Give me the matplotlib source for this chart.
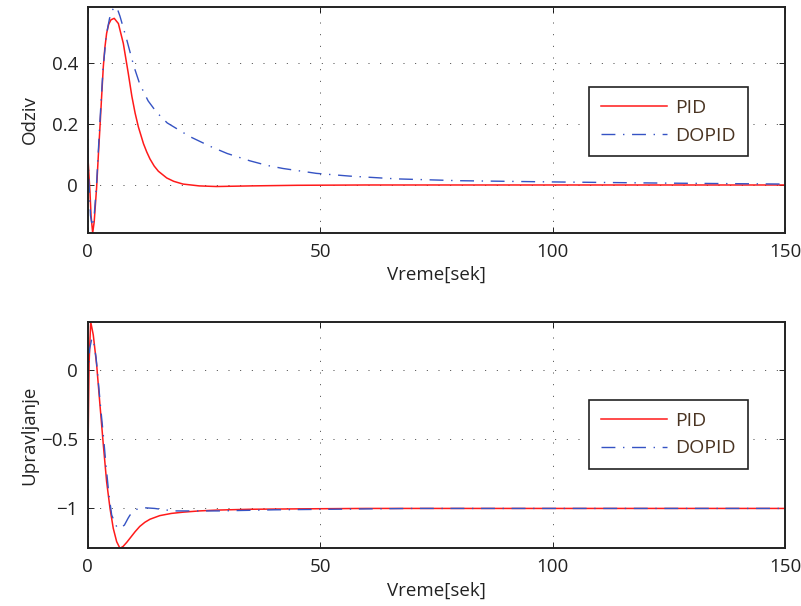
import matplotlib
matplotlib.use("Agg")
import matplotlib.pyplot as plt

# ---- data ----
t_pid_resp = [0, 0.5, 0.72, 1.07, 1.4, 1.93, 2.3, 2.64, 3.0, 3.36, 3.7, 4.07, 4.5, 5.0, 5.7,
              6.6, 7.66, 8.73, 9.5, 10.2, 10.9, 12.0, 12.7, 13.4, 14.3, 15.2, 17.0, 18.5,
              20.5, 24.0, 27.7, 35.0, 45.0, 60.0, 150.0]
y_pid_resp = [0.103, -0.027, -0.10, -0.157, -0.12, -0.005, 0.10, 0.19, 0.29, 0.387, 0.45, 0.496,
              0.525, 0.54, 0.545, 0.528, 0.463, 0.365, 0.29, 0.235, 0.19, 0.135, 0.108, 0.085,
              0.062, 0.045, 0.023, 0.012, 0.003, -0.003, -0.005, -0.003, -0.001, 0.0, 0.0]

t_dopid_resp = [0, 0.3, 0.6, 1.0, 1.4, 1.9, 2.6, 3.3, 4.0, 4.7, 5.3, 5.9, 6.4, 6.94, 8.4, 9.45,
                10.0, 11.2, 13.0, 14.8, 17.1, 22.0, 26.4, 30.0, 34.9, 38.6, 42.0, 49.2,
                56.4, 66.4, 80.0, 100.0, 125.0, 150.0]
y_dopid_resp = [0.12, 0.0, -0.10, -0.136, -0.10, 0.0, 0.20, 0.38, 0.49, 0.545, 0.572, 0.583,
                0.575, 0.552, 0.475, 0.415, 0.385, 0.33, 0.275, 0.238, 0.203, 0.158, 0.126,
                0.103, 0.079, 0.064, 0.054, 0.038, 0.029, 0.020, 0.014, 0.010, 0.006, 0.003]

t_pid_ctrl = [0, 0.3, 0.64, 1.2, 1.93, 2.64, 3.36, 4.07, 4.8, 5.5, 6.23, 6.94, 7.6, 8.4, 9.1,
              10.2, 11.2, 12.3, 13.4, 15.5, 18.0, 20.5, 24.0, 27.7, 34.9, 45.6, 60.0, 150.0]
y_pid_ctrl = [-0.76, 0.05, 0.349, 0.253, 0.036, -0.253, -0.54, -0.807, -1.0, -1.144, -1.24,
              -1.288, -1.275, -1.245, -1.215, -1.168, -1.13, -1.10, -1.078, -1.052, -1.036,
              -1.027, -1.018, -1.012, -1.006, -1.003, -1.0, -1.0]

t_dopid_ctrl = [0, 0.4, 0.9, 1.3, 1.8, 2.28, 2.8, 3.36, 3.93, 4.57, 5.16, 6.23, 6.94, 7.9,
                8.7, 9.1, 10.5, 12.2, 14.4, 18.4, 28.0, 40.0, 55.0, 70.0, 150.0]
y_dopid_ctrl = [-0.10, 0.15, 0.23, 0.20, 0.09, -0.085, -0.277, -0.47, -0.686, -0.903,
                -1.048, -1.132, -1.144, -1.12, -1.07, -1.048, -1.007, -0.995, -1.0, -1.018,
                -1.018, -1.01, -1.005, -1.0, -1.0]

x_ticks = [0, 50, 100, 150]
top_yticks = [0, 0.2, 0.4]
top_ytick_labels = ["0", "0.2", "0.4"]
bot_yticks = [-1, -0.5, 0]
bot_ytick_labels = ["\u22121", "\u22120.5", "0"]
series_names = ["PID", "DOPID"]
xlabel_text = "Vreme[sek]"
ylabels = ["Odziv", "Upravljanje"]

# ---- style ----
plt.rcParams['font.family'] = ['Open Sans', 'DejaVu Sans']
FS = 13.5
RED = '#ff1a1a'
BLUE = '#3553c4'
DASHDOT = (0, (10, 5.5, 1, 5.5))

fig = plt.figure(figsize=(8.01, 6.06), dpi=100)
W, H = 801, 606
left, right = 87.7 / W, 785 / W
ax1 = fig.add_axes([left, 1 - 233 / H, right - left, (233 - 6.7) / H])
ax2 = fig.add_axes([left, 1 - 548.3 / H, right - left, (548.3 - 321.7) / H])

def style(ax, yticks, ylabels_, ylabel, ylim):
    ax.set_xlim(0, 150)
    ax.set_ylim(*ylim)
    ax.set_xticks(x_ticks)
    ax.set_xticklabels([str(v) for v in x_ticks])
    ax.set_yticks(yticks)
    ax.set_yticklabels(ylabels_)
    ax.tick_params(direction='in', length=4, width=0.6, top=True, right=True,
                   labelsize=FS, colors='black', labelcolor='#222222')
    ax.tick_params(axis='x', pad=7)
    ax.tick_params(axis='y', pad=7)
    ax.grid(True, linestyle=(0, (1, 11)), linewidth=0.7, color='0.25')
    for s in ax.spines.values():
        s.set_linewidth(1.4)
        s.set_color('#222222')
    ax.set_xlabel(xlabel_text, fontsize=FS, color='#222222', labelpad=4)
    ax.set_ylabel(ylabel, fontsize=FS, color='#222222')
    ax.yaxis.set_label_coords(-0.0705, 0.5)

ax1.plot(t_pid_resp, y_pid_resp, color=RED, lw=1.1, label=series_names[0])
ax1.plot(t_dopid_resp, y_dopid_resp, color=BLUE, lw=1.0, linestyle=DASHDOT, label=series_names[1])
style(ax1, top_yticks, top_ytick_labels, ylabels[0], (-0.157, 0.583))

ax2.plot(t_pid_ctrl, y_pid_ctrl, color=RED, lw=1.1, label=series_names[0])
ax2.plot(t_dopid_ctrl, y_dopid_ctrl, color=BLUE, lw=1.0, linestyle=DASHDOT, label=series_names[1])
style(ax2, bot_yticks, bot_ytick_labels, ylabels[1], (-1.288, 0.349))

for ax, top in ((ax1, 0.644), (ax2, 0.654)):
    leg = ax.legend(loc='upper left', bbox_to_anchor=(0.719, top), borderaxespad=0,
                    fontsize=14, fancybox=False, framealpha=1, edgecolor='#222222',
                    handlelength=3.4, handletextpad=0.45, borderpad=0.6, labelspacing=0.5)
    leg.get_frame().set_linewidth(1.2)
    for txt in leg.get_texts():
        txt.set_color('#4a3422')

fig.savefig('out.png', dpi=100)
